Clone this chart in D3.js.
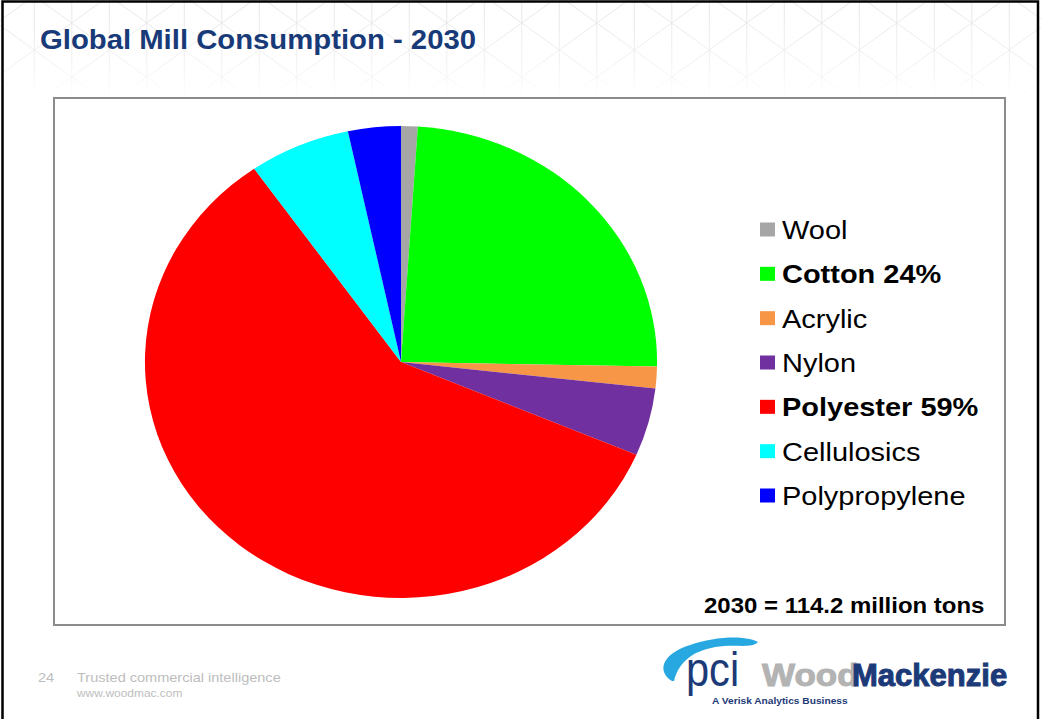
<!DOCTYPE html>
<html><head><meta charset="utf-8">
<script src="https://cdn.jsdelivr.net/npm/d3@7"></script>
<style>html,body{margin:0;padding:0;background:#fff;}svg{display:block;}</style>
</head><body>
<script>
// ---- data ----
const categories = ["Wool","Cotton","Acrylic","Nylon","Polyester","Cellulosics","Polypropylene"];
const values = [1.2, 27.7, 1.7, 5.3, 67.2, 7.3, 3.8]; // million tons, 2030
const legendLabels = ["Wool","Cotton 24%","Acrylic","Nylon","Polyester 59%","Cellulosics","Polypropylene"];
const legendBold = [false,true,false,false,true,false,false];
const colors = ["#A6A6A6","#00FF00","#F79646","#7030A0","#FF0000","#00FFFF","#0000FF"];
const title = "Global Mill Consumption - 2030";
const note = "2030 = 114.2 million tons";

const W = 1041, H = 719, SX = 1.085;
const FONT = "Liberation Sans, Arial, Helvetica, sans-serif";
const svg = d3.select("body").append("svg").attr("width", W).attr("height", H);
const defs = svg.append("defs");

// background lattice, fading downward
const grad = defs.append("linearGradient").attr("id","fade").attr("x1",0).attr("y1",0).attr("x2",0).attr("y2",1);
grad.append("stop").attr("offset","0").attr("stop-color","#fff").attr("stop-opacity",1);
grad.append("stop").attr("offset","0.6").attr("stop-color","#fff").attr("stop-opacity",0.6);
grad.append("stop").attr("offset","1").attr("stop-color","#fff").attr("stop-opacity",0);
defs.append("mask").attr("id","m").append("rect").attr("x",0).attr("y",0).attr("width",W).attr("height",100).attr("fill","url(#fade)");
const lat = svg.append("g").attr("mask","url(#m)").attr("stroke","#e6e6e6").attr("stroke-width",1).attr("fill","none");
for (let k = -20; k <= 20; k++) {
  const vx = 559.3 + 37.5 * k;
  if (vx > 0 && vx < W) lat.append("line").attr("x1",vx).attr("x2",vx).attr("y1",0).attr("y2",100);
  const cx = 596.7 + 75 * k;
  [0.72, -0.72].forEach(s => {
    const x1 = cx - 150, x2 = cx + 150;
    lat.append("line").attr("x1",x1).attr("y1",23 + s*(x1-cx)).attr("x2",x2).attr("y2",23 + s*(x2-cx));
  });
}

// slide border
svg.append("rect").attr("x",2.5).attr("y",1.5).attr("width",1035.5).attr("height",730)
  .attr("fill","none").attr("stroke","#000").attr("stroke-width",2.5);

function txt(x, y, s, size, opt) {
  opt = opt || {};
  return svg.append("text").attr("transform",`translate(${x},${y}) scale(${SX},1)`)
    .attr("font-family", opt.family || FONT).attr("font-size", size)
    .attr("font-weight", opt.bold ? "bold" : "normal").attr("fill", opt.fill || "#000")
    .text(s);
}

// title
txt(40, 49, title, 27, {bold:true, fill:"#183a78"});

// plot box
svg.append("rect").attr("x",54).attr("y",98).attr("width",951).attr("height",527)
  .attr("fill","#fff").attr("stroke","#8c8c8c").attr("stroke-width",2);

// pie (slightly stretched horizontally like the reference)
const R = 236;
const pie = d3.pie().sort(null).value(d => d)(values);
const arc = d3.arc().innerRadius(0).outerRadius(R);
const pg = svg.append("g").attr("transform",`translate(401,362) scale(${SX},1)`);
pg.selectAll("path").data(pie).join("path")
  .attr("d", arc).attr("fill", (d,i) => colors[i]);

// legend
const ly = d3.scalePoint().domain(categories).range([229.5, 495.5]);
const lg = svg.append("g");
categories.forEach((c,i) => {
  const y = ly(c);
  lg.append("rect").attr("x",760).attr("y",y-7).attr("width",15).attr("height",14).attr("fill",colors[i]);
  txt(782, y + 9.5, legendLabels[i], 26.7, {bold: legendBold[i]});
});

// note
txt(704, 613, note, 22.1, {bold:true});

// footer
txt(38, 682, "24", 13.4, {fill:"#bdbdbd"});
txt(77, 682, "Trusted commercial intelligence", 13.4, {fill:"#bdbdbd"});
txt(77, 697, "www.woodmac.com", 11, {fill:"#bdbdbd"});

// logo
svg.append("path")
  .attr("d","M672 681 C657 672 661 654 690 645 C715 636 746 635 758 642 C752 648 741 645 724 646 C700 648 680 657 674 681 Z")
  .attr("fill","#27a8e0");
txt(686, 686, "pci", 48, {fill:"#1d3a78"}).attr("textLength", 49).attr("lengthAdjust","spacingAndGlyphs");
txt(762, 686, "Wood", 31, {bold:true, fill:"#b3b3b3"}).attr("textLength", 89).attr("lengthAdjust","spacingAndGlyphs")
  .attr("stroke","#b3b3b3").attr("stroke-width",1);
txt(852, 686, "Mackenzie", 31, {bold:true, fill:"#1d3a78"}).attr("textLength", 143).attr("lengthAdjust","spacingAndGlyphs")
  .attr("stroke","#1d3a78").attr("stroke-width",1);
txt(712, 704, "A Verisk Analytics Business", 9, {bold:true, fill:"#1d3a78"}).attr("textLength", 125).attr("lengthAdjust","spacingAndGlyphs");
</script>
</body></html>
